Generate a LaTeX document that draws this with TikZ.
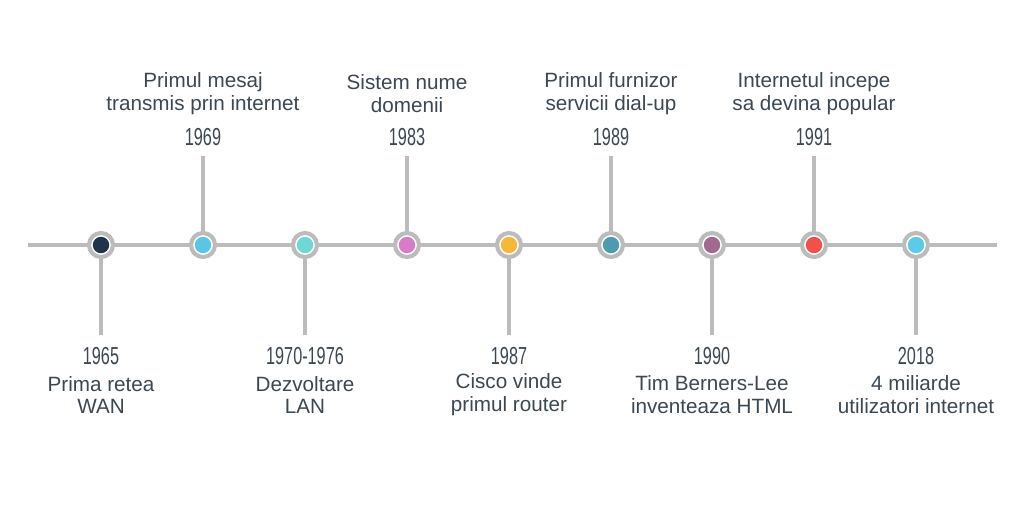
\documentclass[tikz,border=0pt]{standalone}
\usepackage{fontspec}
\setmainfont{Liberation Sans}
\newfontfamily\anfont[FakeStretch=0.66]{Liberation Sans}
\usetikzlibrary{positioning}
\definecolor{gri}{HTML}{BCBCBC}
\definecolor{text}{HTML}{3A4854}
\definecolor{c1965}{HTML}{1F3349}
\definecolor{c1969}{HTML}{5BC5E8}
\definecolor{c1970}{HTML}{6ED8D6}
\definecolor{c1983}{HTML}{D97BC8}
\definecolor{c1987}{HTML}{F9B73A}
\definecolor{c1989}{HTML}{4E9BB0}
\definecolor{c1990}{HTML}{A2698F}
\definecolor{c1991}{HTML}{F0524A}
\definecolor{c2018}{HTML}{5BCBE8}
\begin{document}
\begin{tikzpicture}[x = 0.025cm, y = -0.025cm,
  punct/.style = {circle, draw = gri, line width = 2.9pt, fill = white, minimum size = 0.6cm, inner sep = 0},
  tija/.style = {gri, line width = 2.7pt},
  an/.style = {font = \anfont\fontsize{17.5}{18}\selectfont, text = text},
  descriere/.style = {font = \fontsize{14.7}{16.3}\selectfont, text = text, align = center}
]
\useasboundingbox (0, 0) rectangle (1024, 512);
\coordinate (start) at (28, 245);
\coordinate (stop) at (997, 245);
\draw[tija] (start) -- (stop); % axa timpului
% evenimente sub axa
\foreach \x/\c/\an/\txt [count = \i] in {101/c1965/1965/{Prima retea\\WAN},
  305/c1970/1970-1976/{Dezvoltare\\LAN}, 509/c1987/1987/{Cisco vinde\\primul router},
  712/c1990/1990/{Tim Berners-Lee\\inventeaza HTML}, 916/c2018/2018/{4 miliarde\\utilizatori internet}}{
  \node[punct] (jos\i) at (\x, 245) {};
  \fill[\c] (jos\i.center) circle[radius = 0.205cm];
  \coordinate (capjos\i) at (\x, 335);
  \draw[tija] (jos\i.south) -- (capjos\i);
  \node[an] (anjos\i) at (\x, 356) {\an};
  \node[descriere] (txtjos\i) at (\x, 395) {\txt};
}
% evenimente deasupra axei
\foreach \x/\c/\an/\txt [count = \i] in {203/c1969/1969/{Primul mesaj\\transmis prin internet},
  407/c1983/1983/{Sistem nume\\domenii}, 611/c1989/1989/{Primul furnizor\\servicii dial-up},
  814/c1991/1991/{Internetul incepe\\sa devina popular}}{
  \node[punct] (sus\i) at (\x, 245) {};
  \fill[\c] (sus\i.center) circle[radius = 0.205cm];
  \coordinate (capsus\i) at (\x, 156);
  \draw[tija] (sus\i.north) -- (capsus\i);
  \node[an] (ansus\i) at (\x, 137.5) {\an};
  \node[descriere] (txtsus\i) at (\x, 94) {\txt};
}
\end{tikzpicture}
\end{document}
